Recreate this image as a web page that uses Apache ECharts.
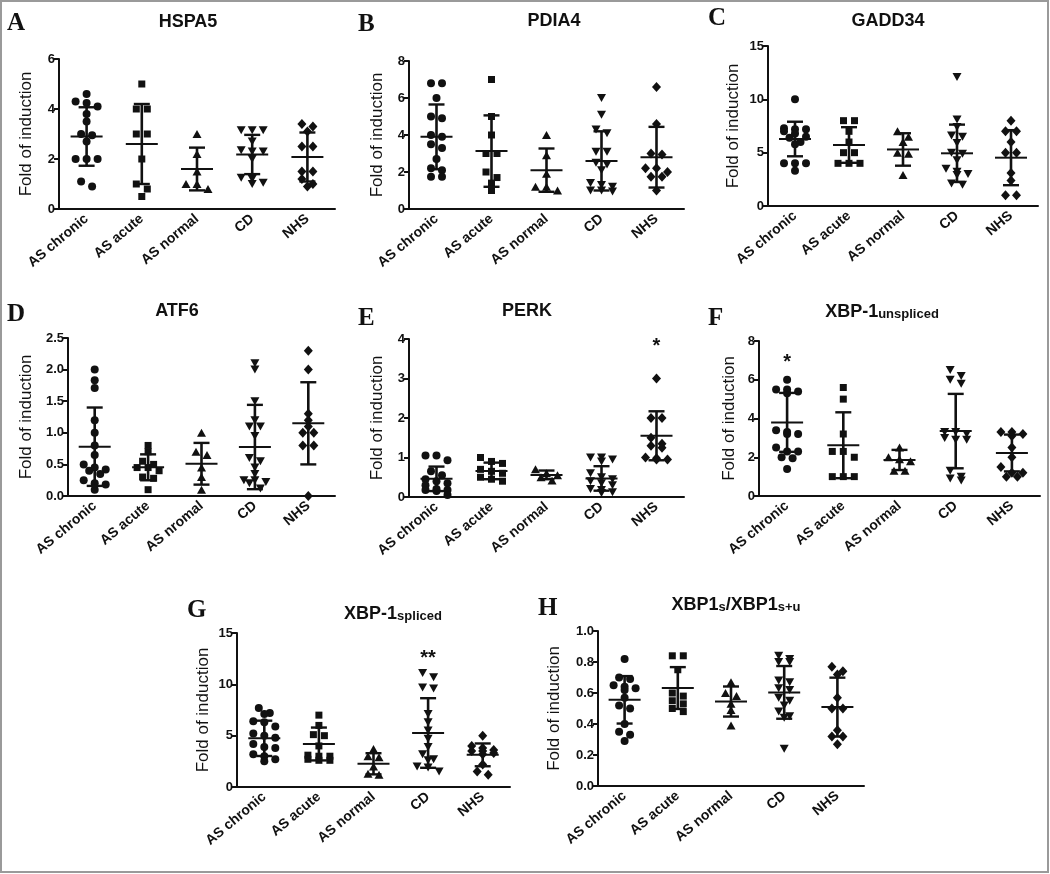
<!DOCTYPE html>
<html><head><meta charset="utf-8">
<script src="https://cdn.jsdelivr.net/npm/echarts@6/dist/echarts.min.js"></script>
<style>html,body{margin:0;padding:0;background:#fff}#c{width:1050px;height:874px}</style>
</head><body><div id="c"></div>
<script>
// ---------------- data ----------------
const categories = ['AS chronic', 'AS acute', 'AS normal', 'CD', 'NHS'];
const categoriesATF6 = ['AS chronic', 'AS acute', 'AS nromal', 'CD', 'NHS'];
const yTitle = 'Fold of induction';

const hspa5 = [
  [4.6, 4.3, 4.24, 4.1, 3.8, 3.5, 3.0, 2.95, 2.7, 2.0, 2.0, 2.0, 1.1, 0.9],
  [5.0, 4.0, 4.0, 3.0, 3.0, 2.0, 1.0, 0.8, 0.5],
  [3.0, 2.2, 1.5, 1.0, 1.0, 0.8],
  [3.15, 3.15, 3.15, 2.7, 2.35, 2.3, 2.3, 2.0, 1.25, 1.2, 1.05, 1.0],
  [3.4, 3.3, 3.1, 2.5, 2.5, 1.5, 1.5, 1.2, 1.0, 0.9]
];
const hspa5Mean = [2.9, 2.6, 1.6, 2.18, 2.08];
const hspa5SD = [1.17, 1.6, 0.855, 0.785, 0.98];

const pdia4 = [
  [6.8, 6.8, 6.0, 5.0, 4.9, 4.0, 3.9, 3.5, 3.3, 2.7, 2.2, 2.1, 1.75, 1.75],
  [7.0, 5.0, 4.0, 3.0, 3.0, 2.0, 1.7, 1.4, 1.0],
  [4.0, 2.9, 1.9, 1.2, 1.2, 1.0],
  [6.0, 5.1, 4.3, 4.1, 3.1, 3.1, 2.5, 2.4, 2.1, 1.4, 1.3, 1.2, 1.0, 1.0, 0.95],
  [6.6, 4.6, 3.0, 2.95, 2.2, 2.2, 2.0, 1.75, 1.75, 1.0]
];
const pdia4Mean = [3.9, 3.13, 2.1, 2.6, 2.8];
const pdia4SD = [1.75, 1.93, 1.17, 1.6, 1.64];

const gadd34 = [
  [10.0, 7.3, 7.2, 7.2, 7.0, 6.8, 6.5, 6.4, 6.0, 5.8, 4.0, 4.0, 4.0, 3.3],
  [8.0, 8.0, 7.0, 6.0, 5.0, 5.0, 4.0, 4.0, 4.0],
  [7.0, 6.5, 6.0, 5.0, 4.9, 2.9],
  [12.1, 8.1, 7.4, 6.6, 6.5, 5.9, 5.0, 4.9, 4.3, 3.5, 3.2, 3.0, 2.9, 2.1, 2.0],
  [8.0, 7.0, 7.0, 6.0, 5.0, 5.0, 3.1, 2.4, 1.0, 1.0]
];
const gadd34Mean = [6.28, 5.72, 5.3, 4.94, 4.53];
const gadd34SD = [1.62, 1.67, 1.52, 2.69, 2.58];

const atf6 = [
  [2.0, 1.83, 1.71, 1.2, 1.0, 0.8, 0.65, 0.5, 0.45, 0.42, 0.4, 0.35, 0.25, 0.2, 0.18, 0.1],
  [0.8, 0.7, 0.55, 0.5, 0.45, 0.45, 0.4, 0.3, 0.28, 0.1],
  [1.0, 0.7, 0.65, 0.45, 0.3, 0.1],
  [2.1, 2.0, 1.5, 1.2, 1.1, 1.1, 0.95, 0.6, 0.55, 0.45, 0.35, 0.25, 0.25, 0.22, 0.2, 0.12],
  [2.3, 2.0, 1.3, 1.2, 1.1, 1.0, 1.0, 0.8, 0.8, 0.0]
];
const atf6Mean = [0.78, 0.454, 0.51, 0.775, 1.15];
const atf6SD = [0.62, 0.205, 0.33, 0.667, 0.65];

const perk = [
  [1.05, 1.05, 0.93, 0.65, 0.55, 0.45, 0.4, 0.35, 0.3, 0.2, 0.18, 0.18, 0.15, 0.05],
  [1.0, 0.9, 0.85, 0.7, 0.65, 0.6, 0.5, 0.45, 0.4],
  [0.7, 0.6, 0.55, 0.5, 0.42],
  [1.0, 1.0, 0.95, 0.9, 0.6, 0.5, 0.45, 0.4, 0.35, 0.3, 0.2, 0.18, 0.12, 0.1],
  [3.0, 2.0, 2.0, 1.5, 1.35, 1.3, 1.25, 1.0, 0.98, 0.95, 0.95]
];
const perkMean = [0.46, 0.66, 0.56, 0.47, 1.55];
const perkSD = [0.31, 0.21, 0.11, 0.31, 0.62];

const xbp1u = [
  [6.0, 5.5, 5.5, 5.4, 5.3, 3.4, 3.3, 3.2, 3.2, 2.5, 2.3, 2.3, 2.0, 1.95, 1.4],
  [5.6, 5.0, 3.2, 2.3, 2.3, 2.0, 1.0, 1.0, 1.0],
  [2.5, 2.0, 1.9, 1.8, 1.3, 1.3],
  [6.5, 6.2, 6.0, 5.8, 3.3, 3.3, 3.2, 3.0, 2.9, 2.9, 1.3, 1.0, 0.9, 0.8],
  [3.3, 3.3, 3.2, 3.1, 2.5, 2.0, 1.5, 1.2, 1.2, 1.0, 1.0]
];
const xbp1uMean = [3.8, 2.62, 1.86, 3.35, 2.22];
const xbp1uSD = [1.52, 1.7, 0.52, 1.92, 0.95];

const xbp1s = [
  [7.7, 7.2, 7.1, 6.4, 6.3, 5.9, 5.2, 5.0, 4.8, 4.2, 3.9, 3.8, 3.2, 3.0, 2.7, 2.5],
  [7.0, 6.0, 5.1, 5.0, 4.0, 3.1, 3.0, 3.0, 2.7, 2.6, 2.6],
  [3.7, 3.0, 2.9, 2.0, 1.3, 1.2],
  [11.1, 10.7, 9.7, 9.6, 7.1, 6.3, 5.5, 4.7, 3.9, 3.2, 2.7, 2.6, 2.0, 1.9, 1.5],
  [5.0, 4.0, 3.8, 3.6, 3.5, 3.5, 3.3, 3.2, 2.2, 1.5, 1.2]
];
const xbp1sMean = [4.74, 4.19, 2.26, 5.26, 3.13];
const xbp1sSD = [1.72, 1.6, 1.03, 3.39, 1.11];

const ratio = [
  [0.82, 0.7, 0.69, 0.65, 0.64, 0.63, 0.62, 0.57, 0.52, 0.5, 0.4, 0.35, 0.33, 0.29],
  [0.84, 0.84, 0.75, 0.6, 0.58, 0.55, 0.53, 0.5, 0.48],
  [0.67, 0.6, 0.58, 0.53, 0.49, 0.39],
  [0.84, 0.82, 0.8, 0.8, 0.68, 0.67, 0.63, 0.62, 0.57, 0.55, 0.52, 0.48, 0.45, 0.44, 0.24],
  [0.77, 0.74, 0.72, 0.57, 0.5, 0.5, 0.36, 0.32, 0.32, 0.27]
];
const ratioMean = [0.556, 0.632, 0.545, 0.604, 0.509];
const ratioSD = [0.153, 0.135, 0.097, 0.17, 0.19];

// significance marks: [group index, value, text]
const perkStars = [[4, 3.8, '*']];
const xbp1uStars = [[0, 6.9, '*']];
const xbp1sStars = [[3, 12.55, '**']];

// ---------------- styling / layout ----------------
const FONT = '"Liberation Sans", Arial, sans-serif';
const SERIF = '"Liberation Serif", "Times New Roman", serif';
const INK = '#111';
const TITLE_SIZE = 18;

const panels = [
  {letter: 'A', title: '{a|HSPA5}', cats: categories, pts: hspa5, mean: hspa5Mean, sd: hspa5SD, stars: [],
   max: 6, interval: 2, dec: 0, grid: {left: 59, top: 59, width: 276, height: 150}, nameGap: 24, titleXY: [188, 22], letterXY: [7, 24]},
  {letter: 'B', title: '{a|PDIA4}', cats: categories, pts: pdia4, mean: pdia4Mean, sd: pdia4SD, stars: [],
   max: 8, interval: 2, dec: 0, grid: {left: 409, top: 61, width: 275, height: 148}, nameGap: 23, titleXY: [554, 21], letterXY: [358, 25]},
  {letter: 'C', title: '{a|GADD34}', cats: categories, pts: gadd34, mean: gadd34Mean, sd: gadd34SD, stars: [],
   max: 15, interval: 5, dec: 0, grid: {left: 768, top: 46, width: 270, height: 160}, nameGap: 26, titleXY: [888, 21], letterXY: [708, 19]},
  {letter: 'D', title: '{a|ATF6}', cats: categoriesATF6, pts: atf6, mean: atf6Mean, sd: atf6SD, stars: [],
   max: 2.5, interval: 0.5, dec: 1, grid: {left: 68, top: 338, width: 267, height: 158}, nameGap: 33, titleXY: [177, 311], letterXY: [7, 315]},
  {letter: 'E', title: '{a|PERK}', cats: categories, pts: perk, mean: perkMean, sd: perkSD, stars: perkStars,
   max: 4, interval: 1, dec: 0, grid: {left: 409, top: 339, width: 275, height: 158}, nameGap: 23, titleXY: [527, 311], letterXY: [358, 319]},
  {letter: 'F', title: '{a|XBP-1}{b|unspliced}', cats: categories, pts: xbp1u, mean: xbp1uMean, sd: xbp1uSD, stars: xbp1uStars,
   max: 8, interval: 2, dec: 0, grid: {left: 759, top: 341, width: 281, height: 155}, nameGap: 21, titleXY: [882, 312], letterXY: [708, 319]},
  {letter: 'G', title: '{a|XBP-1}{b|spliced}', cats: categories, pts: xbp1s, mean: xbp1sMean, sd: xbp1sSD, stars: xbp1sStars,
   max: 15, interval: 5, dec: 0, grid: {left: 237, top: 633, width: 273, height: 154}, nameGap: 25, titleXY: [393, 614], letterXY: [187, 611]},
  {letter: 'H', title: '{a|XBP1}{b|s}{a|/XBP1}{b|s+u}', cats: categories, pts: ratio, mean: ratioMean, sd: ratioSD, stars: [],
   max: 1.0, interval: 0.2, dec: 1, grid: {left: 598, top: 631, width: 266, height: 155}, nameGap: 35, titleXY: [736, 605], letterXY: [538, 609]}
];

const markers = [
  {symbol: 'circle', size: 8, rotate: 0},
  {symbol: 'rect', size: 7, rotate: 0},
  {symbol: 'triangle', size: [9, 8], rotate: 0},
  {symbol: 'triangle', size: [9, 8], rotate: 180},
  {symbol: 'diamond', size: [9, 10], rotate: 0}
];

const STEP = 11;     // px between side-by-side points
const ROW = 6;       // px: points closer than this share a row
const MAX_ROW = 3;   // at most this many points side by side

function swarm(values, pxPerUnit, pxPerCat) {
  const idx = values.map((v, i) => i).sort((a, b) => values[b] - values[a]);
  const out = new Array(values.length).fill(0);
  let cluster = [];
  const flush = () => {
    const n = cluster.length;
    cluster.forEach((i, k) => { out[i] = (k - (n - 1) / 2) * STEP / pxPerCat; });
    cluster = [];
  };
  idx.forEach(i => {
    if (cluster.length && ((values[cluster[0]] - values[i]) * pxPerUnit > ROW || cluster.length >= MAX_ROW)) flush();
    cluster.push(i);
  });
  flush();
  return out;
}

const grids = [], xAxes = [], yAxes = [], series = [], graphics = [];

graphics.push({type: 'rect', shape: {x: 1, y: 1, width: 1047, height: 871},
  style: {fill: null, stroke: '#9a9a9a', lineWidth: 2}, silent: true});

const richTitle = {
  a: {fontSize: TITLE_SIZE, fontWeight: 'bold', fontFamily: FONT, fill: INK, lineHeight: 18, verticalAlign: 'top'},
  b: {fontSize: 13, fontWeight: 'bold', fontFamily: FONT, fill: INK, lineHeight: 14, padding: [8, 0, 0, 0], verticalAlign: 'bottom'}
};

panels.forEach((p, pi) => {
  grids.push(Object.assign({containLabel: false}, p.grid));
  xAxes.push({
    gridIndex: pi, type: 'category', data: p.cats, boundaryGap: true,
    axisLine: {onZero: false, lineStyle: {color: INK, width: 2}},
    axisTick: {alignWithLabel: true, length: 5, lineStyle: {color: INK, width: 2}},
    axisLabel: {interval: 0, rotate: 40, fontSize: 14, fontWeight: 'bold', color: INK, fontFamily: FONT, margin: 8},
    splitLine: {show: false}
  });
  xAxes.push({gridIndex: pi, type: 'value', min: -0.5, max: 4.5, show: false});
  yAxes.push({
    gridIndex: pi, type: 'value', min: 0, max: p.max, interval: p.interval,
    name: yTitle, nameLocation: 'middle', nameGap: p.nameGap,
    nameTextStyle: {fontSize: 17, fontFamily: FONT, color: INK},
    axisLine: {show: true, onZero: false, lineStyle: {color: INK, width: 2}},
    axisTick: {show: true, length: 5, lineStyle: {color: INK, width: 2}},
    axisLabel: {fontSize: 13, fontWeight: 'bold', color: INK, fontFamily: FONT, margin: 4,
      formatter: v => Number(v).toFixed(p.dec)},
    splitLine: {show: false}
  });

  const pxPerUnit = p.grid.height / p.max;
  const pxPerCat = p.grid.width / p.cats.length;
  p.pts.forEach((vals, g) => {
    const off = swarm(vals, pxPerUnit, pxPerCat);
    const m = markers[g];
    series.push({
      type: 'scatter', xAxisIndex: pi * 2 + 1, yAxisIndex: pi,
      data: vals.map((v, i) => [g + off[i], v]),
      symbol: m.symbol, symbolSize: m.size, symbolRotate: m.rotate,
      itemStyle: {color: INK, opacity: 1}, silent: true, z: 2
    });
  });

  series.push({
    type: 'custom', xAxisIndex: pi * 2 + 1, yAxisIndex: pi, silent: true, z: 3,
    data: p.mean.map((m, g) => [g, m, p.sd[g]]),
    encode: {x: 0, y: 1},
    renderItem: (params, api) => {
      const x = api.value(0), m = api.value(1), s = api.value(2);
      const c = api.coord([x, m]), hi = api.coord([x, m + s]), lo = api.coord([x, m - s]);
      const st = w => ({stroke: INK, lineWidth: w, fill: null});
      return {type: 'group', children: [
        {type: 'line', shape: {x1: c[0] - 16, y1: c[1], x2: c[0] + 16, y2: c[1]}, style: st(2)},
        {type: 'line', shape: {x1: hi[0], y1: hi[1], x2: lo[0], y2: lo[1]}, style: st(2.6)},
        {type: 'line', shape: {x1: hi[0] - 8, y1: hi[1], x2: hi[0] + 8, y2: hi[1]}, style: st(2.4)},
        {type: 'line', shape: {x1: lo[0] - 8, y1: lo[1], x2: lo[0] + 8, y2: lo[1]}, style: st(2.4)}
      ]};
    }
  });

  if (p.stars.length) {
    series.push({
      type: 'custom', xAxisIndex: pi * 2 + 1, yAxisIndex: pi, silent: true, z: 4,
      data: p.stars.map(s => [s[0], s[1]]),
      encode: {x: 0, y: 1},
      renderItem: (params, api) => {
        const c = api.coord([api.value(0), api.value(1)]);
        const t = p.stars[params.dataIndex][2];
        return {type: 'text', x: c[0], y: c[1],
          style: {text: t, fontSize: 20, fontWeight: 'bold', fontFamily: FONT, fill: INK, align: 'center', verticalAlign: 'middle'}};
      }
    });
  }

  graphics.push({type: 'text', x: p.letterXY[0], y: p.letterXY[1], silent: true,
    style: {text: p.letter, fontSize: 25, fontWeight: 'bold', fontFamily: SERIF, fill: INK, align: 'left', verticalAlign: 'middle'}});
  graphics.push({type: 'text', x: p.titleXY[0], y: p.titleXY[1], silent: true,
    style: {text: p.title, rich: richTitle, align: 'center', verticalAlign: 'middle', fill: INK}});
});

const chart = echarts.init(document.getElementById('c'), null, {renderer: 'canvas'});
chart.setOption({
  backgroundColor: '#fff',
  animation: false,
  grid: grids,
  xAxis: xAxes,
  yAxis: yAxes,
  series: series,
  graphic: graphics
});
</script>
</body></html>
